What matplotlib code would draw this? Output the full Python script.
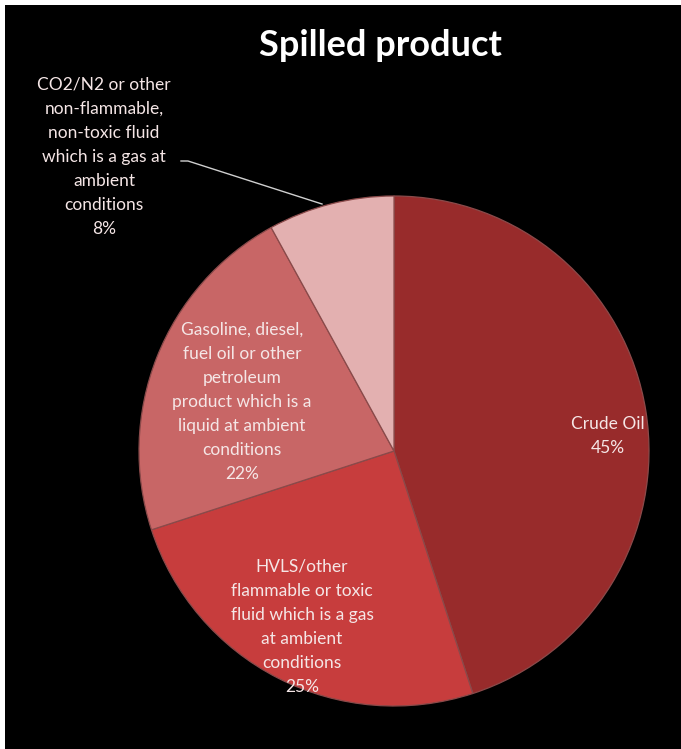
import matplotlib.pyplot as plt
from matplotlib.patches import Rectangle

# Datos del gráfico
categorias = ["Crude Oil",
              "HVLS/other\nflammable or toxic\nfluid which is a gas\nat ambient\nconditions",
              "Gasoline, diesel,\nfuel oil or other\npetroleum\nproduct which is a\nliquid at ambient\nconditions",
              "CO2/N2 or other\nnon-flammable,\nnon-toxic fluid\nwhich is a gas at\nambient\nconditions"]
valores = [45, 25, 22, 8]
colores = ["#982b2b", "#c73d3d", "#c86666", "#e3b0b0"]

plt.rcParams['font.family'] = ['Lato', 'DejaVu Sans']

fig = plt.figure(figsize=(6.81, 7.49), dpi=100)
fig.patch.set_facecolor("white")
# fondo negro con un pequeño margen blanco arriba y a la izquierda
fig.add_artist(Rectangle((5 / 681, 0), 1, (749 - 5) / 749, transform=fig.transFigure,
                         facecolor="black", edgecolor="none", zorder=0))

W, H = 681, 749
cx, cy, r = 394, 451, 255
ax = fig.add_axes([(cx - r) / W, 1 - (cy + r) / H, 2 * r / W, 2 * r / H])
ax.set_facecolor("none")

wedges, _ = ax.pie(valores, colors=colores, startangle=90, counterclock=False,
                   wedgeprops=dict(edgecolor="#8a4a4a", linewidth=0.9))
ax.set_xlim(-1, 1)
ax.set_ylim(-1, 1)
ax.set_aspect("auto")
ax.axis("off")

# Etiquetas (posiciones en píxeles de la figura)
def fpos(x, y):
    return x / W, 1 - y / H

etiquetas = [f"{c}\n{v}%" for c, v in zip(categorias, valores)]
posiciones = [(608, 436), (302, 627), (242, 402), (104, 157)]
for txt, (x, y) in zip(etiquetas, posiciones):
    fig.text(*fpos(x, y), txt, ha="center", va="center", color="#f5e6e6",
             fontsize=12.5, linespacing=1.62)

# Línea guía de la etiqueta de CO2
fig.add_artist(plt.Line2D([181 / W, 188 / W, 322 / W],
                          [1 - 161 / H, 1 - 161 / H, 1 - 204 / H],
                          transform=fig.transFigure, color="#d0d0d0", linewidth=1))

fig.text(*fpos(380, 45), "Spilled product", ha="center", va="center",
         color="white", fontsize=26, fontweight="bold")

fig.savefig("out.png", dpi=100, facecolor=fig.get_facecolor())
